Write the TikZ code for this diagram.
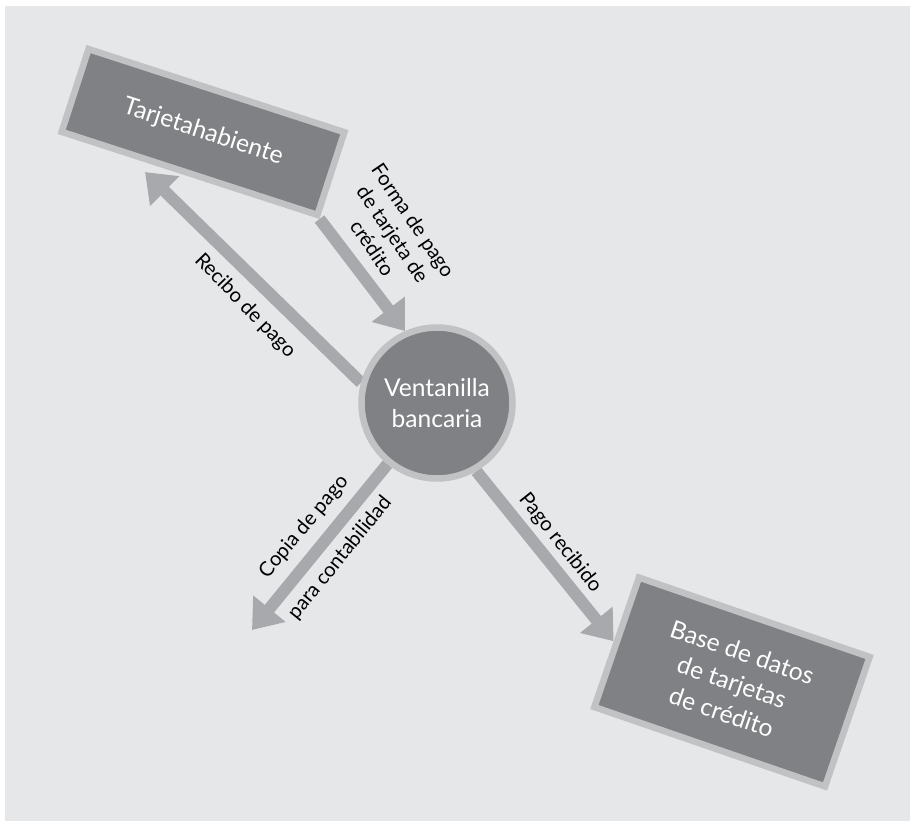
\documentclass[tikz,border=0pt]{standalone}
\usepackage{fontspec}
\setmainfont{Lato}
\usetikzlibrary{arrows.meta, positioning}
\definecolor{bgGray}{RGB}{230, 231, 232}
\definecolor{boxGray}{RGB}{128, 129, 132}
\definecolor{rimGray}{RGB}{193, 194, 196}
\definecolor{flowGray}{RGB}{167, 169, 172}
\pgfdeclarelayer{back}
\pgfsetlayers{back,main}

\begin{document}
\begin{tikzpicture}[
    x=0.02cm, y=-0.02cm,
    entity/.style={rectangle, draw=rimGray, fill=boxGray, line width=0.13cm, text=white, align=center, inner sep=0pt, font=\fontsize{14}{18}\selectfont},
    process/.style={circle, draw=rimGray, fill=boxGray, line width=0.13cm, text=white, align=center, inner sep=0pt, minimum size=3.02cm, font=\fontsize{14}{17.5}\selectfont},
    flow/.style={draw=flowGray, line width=0.24cm, -{Triangle[length=0.55cm, width=0.8cm]}},
    flowlabel/.style={align=center, inner sep=0pt, font=\fontsize{11.5}{14}\selectfont}
]
    \useasboundingbox (0,0) rectangle (910,821);
    \begin{pgfonlayer}{back}
        \fill[bgGray] (5,6) rectangle (910,821);
    \end{pgfonlayer}

    % Entidades y proceso
    \node (holder) [entity, rotate=-18, minimum width=5.38cm, minimum height=1.74cm] at (203,132) {Tarjetahabiente};
    \node (window) [process] at (437,403) {Ventanilla\\bancaria};
    \node (cardbase) [entity, rotate=-19, minimum width=4.88cm, minimum height=2.74cm] at (732,682) {Base de datos\\de tarjetas\\de crédito};

    % Extremos libres
    \coordinate (receipt) at (145,172);
    \coordinate (copy) at (252,630);

    % Flujos
    \begin{pgfonlayer}{back}
        \path [flow] (holder.south east) -- (window.114);
        \path [flow] (window.165) -- (receipt);
        \path [flow] (window.231) -- (copy);
        \path [flow] (window.300) -- (cardbase.west);
    \end{pgfonlayer}

    % Etiquetas
    \node (formLabel) [flowlabel, rotate=-56] at (393,234) {Forma de pago\\de tarjeta de\\crédito};
    \node (receiptLabel) [flowlabel, rotate=-46] at (245,306) {Recibo de pago};
    \node (copyLabel) [flowlabel, rotate=50] at (304,527) {Copia de pago};
    \node (accountLabel) [flowlabel, rotate=51] at (340,558) {para contabilidad};
    \node (paidLabel) [flowlabel, rotate=-51.5] at (560,543) {Pago recibido};
\end{tikzpicture}
\end{document}
